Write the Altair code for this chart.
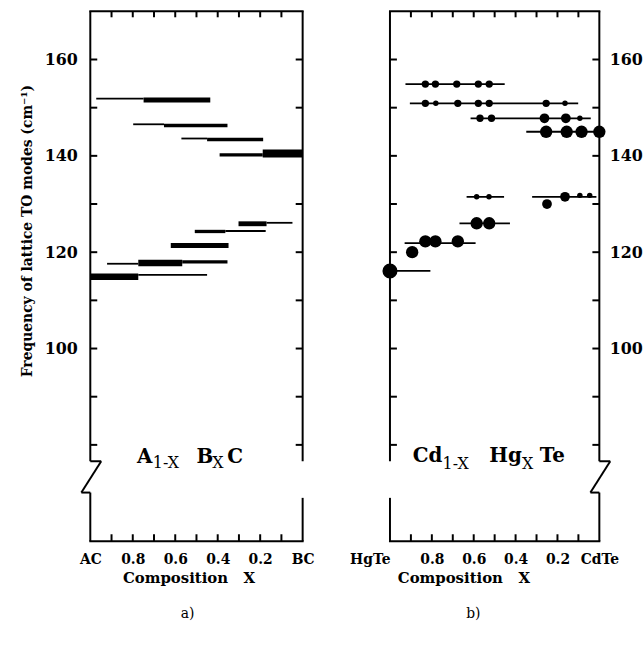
import altair as alt
import pandas as pd

FONT = "DejaVu Serif"
FORMULA_FONT = "DejaVu Serif"

# ---------------- axis values / labels ----------------
Y_DOMAIN = [60, 170]
Y_LABEL_VALUES = [100, 120, 140, 160]
Y_TICKS = [80, 90, 100, 110, 120, 130, 140, 150, 160]
X_LABEL_VALUES = [1.0, 0.8, 0.6, 0.4, 0.2, 0.0]
X_TICKS = [0.9, 0.8, 0.7, 0.6, 0.5, 0.4, 0.3, 0.2, 0.1]
A_X_LABELS = ["AC", "0.8", "0.6", "0.4", "0.2", "BC"]
B_X_LABELS = ["HgTe", "0.8", "0.6", "0.4", "0.2", "CdTe"]
Y_TITLE = "Frequency of lattice TO modes (cm\u207b\u00b9)"
X_TITLE = "Composition\u00a0\u00a0\u00a0X"

# ---------------- panel a) A1-x Bx C : horizontal mode segments ----------------
A_X_START = [0.972, 0.749, 0.798, 0.653, 0.571, 0.450, 0.391, 0.188, 0.302, 0.170,
             0.508, 0.364, 0.621, 0.921, 0.774, 0.567, 1.000, 0.774]
A_X_END = [0.749, 0.435, 0.653, 0.354, 0.450, 0.186, 0.188, 0.000, 0.170, 0.048,
           0.364, 0.174, 0.349, 0.774, 0.567, 0.354, 0.774, 0.450]
A_FREQ = [151.9, 151.6, 146.55, 146.3, 143.6, 143.4, 140.2, 140.5, 125.9, 126.1,
          124.3, 124.4, 121.4, 117.6, 117.75, 118.0, 114.9, 115.3]
A_WEIGHT = [1, 3, 1, 2, 1, 2, 2, 5, 3, 1, 2, 1, 3, 1, 4, 2, 4, 1]

# ---------------- panel b) Cd1-x Hgx Te ----------------
B_LINE_X_START = [0.926, 0.905, 0.615, 0.349, 0.634, 0.321, 0.668, 0.930, 1.000]
B_LINE_X_END = [0.452, 0.101, 0.041, 0.000, 0.455, 0.014, 0.427, 0.591, 0.807]
B_LINE_FREQ = [154.9, 150.9, 147.8, 145.0, 131.5, 131.5, 126.0, 121.9, 116.1]

B_DOT_X = [0.831, 0.783, 0.681, 0.578, 0.526,
           0.831, 0.781, 0.676, 0.578, 0.526, 0.254, 0.164,
           0.570, 0.515, 0.262, 0.160, 0.093,
           0.254, 0.156, 0.085, 0.000,
           0.586, 0.527,
           0.164, 0.093, 0.046, 0.250,
           0.586, 0.526,
           0.831, 0.783, 0.676,
           0.894, 1.000]
B_DOT_FREQ = [154.9, 154.9, 154.9, 154.9, 154.9,
              150.9, 150.9, 150.9, 150.9, 150.9, 150.9, 150.9,
              147.8, 147.8, 147.8, 147.8, 147.8,
              145.0, 145.0, 145.0, 145.0,
              131.5, 131.5,
              131.5, 131.8, 131.8, 130.0,
              126.0, 126.0,
              122.25, 122.25, 122.25,
              120.0, 116.1]
B_DOT_LEVEL = [2, 2, 2, 2, 2,
               2, 1, 2, 2, 2, 2, 1,
               2, 2, 3, 3, 1,
               4, 4, 4, 4,
               1, 1,
               3, 1, 1, 3,
               4, 4,
               4, 4, 4,
               4, 5]

# ---------------- layout constants ----------------
W_A, W_B, H = 214, 211, 534
BREAK_TOP, BREAK_ZIG_BOTTOM, BREAK_GAP_BOTTOM = 76.6, 70.1, 69.0
LW = 2


def label_expr(values, labels):
    expr = "''"
    for v, l in reversed(list(zip(values, labels))):
        expr = f"datum.value == {v} ? '{l}' : ({expr})"
    return expr


YS = alt.Scale(domain=Y_DOMAIN, nice=False, zero=False)
XS = alt.Scale(domain=[0, 1], reverse=True, nice=False, zero=False)
WIDTH_SCALE = alt.Scale(type="linear", domain=[1, 5], range=[1.8, 8])
SIZE_SCALE = alt.Scale(type="pow", exponent=2, domain=[1, 5], range=[30, 230])


def x_axis(labels, title_x, align=None):
    kw = dict(values=X_LABEL_VALUES, labelExpr=label_expr(X_LABEL_VALUES, labels),
              ticks=False, domain=False, grid=False, labelFlush=False,
              labelOverlap=False, labelBound=False, labelPadding=11,
              labelFont=FONT, labelFontSize=14, labelFontWeight="bold",
              labelColor="black", title=X_TITLE, titleFont=FONT, titleFontSize=15,
              titleFontWeight="bold", titleColor="black", titleX=title_x,
              titleY=30, titleAlign="center", titleBaseline="top")
    if align is not None:
        kw["labelAlign"] = align
    return alt.Axis(**kw)


Y_AXIS_A = alt.Axis(orient="left", values=Y_LABEL_VALUES, ticks=False, domain=False,
                    grid=False, labelPadding=13, labelFont=FONT, labelFontSize=16,
                    labelFontWeight="bold", labelColor="black", title=Y_TITLE,
                    titleFont=FONT, titleFontSize=14, titleFontWeight="bold",
                    titleColor="black", titleX=-56, titleY=221, titleAlign="center",
                    titleBaseline="bottom", titleAngle=270)
Y_AXIS_B = alt.Axis(orient="right", values=Y_LABEL_VALUES, ticks=False, domain=False,
                    grid=False, labelPadding=10, labelFont=FONT, labelFontSize=16,
                    labelFontWeight="bold", labelColor="black", title=None)

ONE = pd.DataFrame({"k": [0]})


def frame_layers(W, XENC, YENC, zig_left):
    layers = []
    for yy in (0, H):
        layers.append(alt.Chart(ONE).mark_rule(color="black", strokeWidth=LW).encode(
            x=alt.value(-1), x2=alt.value(W + 1), y=alt.value(yy)))
    zig_x = 0 if zig_left else W
    gap_x = W if zig_left else 0
    zig_seg = pd.DataFrame({"y": [Y_DOMAIN[1], BREAK_ZIG_BOTTOM], "y2": [BREAK_TOP, Y_DOMAIN[0]]})
    gap_seg = pd.DataFrame({"y": [Y_DOMAIN[1], BREAK_GAP_BOTTOM], "y2": [BREAK_TOP, Y_DOMAIN[0]]})
    layers.append(alt.Chart(zig_seg).mark_rule(color="black", strokeWidth=LW).encode(
        x=alt.value(zig_x), y=YENC, y2="y2:Q"))
    layers.append(alt.Chart(gap_seg).mark_rule(color="black", strokeWidth=LW).encode(
        x=alt.value(gap_x), y=YENC, y2="y2:Q"))
    top_pt = pd.DataFrame({"y": [BREAK_TOP], "y2": [BREAK_ZIG_BOTTOM]})
    bot_pt = pd.DataFrame({"y": [BREAK_ZIG_BOTTOM]})
    layers.append(alt.Chart(top_pt).mark_rule(color="black", strokeWidth=LW).encode(
        x=alt.value(zig_x), x2=alt.value(zig_x + 11), y=YENC))
    layers.append(alt.Chart(top_pt).mark_rule(color="black", strokeWidth=LW).encode(
        x=alt.value(zig_x + 11), x2=alt.value(zig_x - 9), y=YENC, y2="y2:Q"))
    layers.append(alt.Chart(bot_pt).mark_rule(color="black", strokeWidth=LW).encode(
        x=alt.value(zig_x - 9), x2=alt.value(zig_x), y=YENC))
    yt = pd.DataFrame({"y": Y_TICKS})
    layers.append(alt.Chart(yt).mark_rule(color="black", strokeWidth=LW).encode(
        x=alt.value(0), x2=alt.value(7), y=YENC))
    layers.append(alt.Chart(yt).mark_rule(color="black", strokeWidth=LW).encode(
        x=alt.value(W - 7), x2=alt.value(W), y=YENC))
    xt = pd.DataFrame({"x": X_TICKS})
    layers.append(alt.Chart(xt).mark_rule(color="black", strokeWidth=LW).encode(
        x=XENC, y=alt.value(0), y2=alt.value(6)))
    layers.append(alt.Chart(xt).mark_rule(color="black", strokeWidth=LW).encode(
        x=XENC, y=alt.value(H - 7), y2=alt.value(H)))
    return layers


def text_part(txt, px, py, size, bold, font=FORMULA_FONT, align="left"):
    return alt.Chart(ONE).mark_text(
        text=txt, align=align, baseline="alphabetic", font=font, fontSize=size,
        fontWeight="bold" if bold else "normal", color="black").encode(
        x=alt.value(px), y=alt.value(py))


# ---------------- panel a ----------------
XENC_A = alt.X("x:Q", scale=XS, axis=x_axis(A_X_LABELS, 99))
YENC_A = alt.Y("y:Q", scale=YS, axis=Y_AXIS_A)
df_a = pd.DataFrame({"x": A_X_START, "x2": A_X_END, "y": A_FREQ, "w": A_WEIGHT})
seg_a = alt.Chart(df_a).mark_rule(color="black").encode(
    x=XENC_A, x2="x2:Q", y=YENC_A,
    strokeWidth=alt.StrokeWidth("w:Q", scale=WIDTH_SCALE, legend=None))
texts_a = [
    text_part("A", 47, 455, 20, True),
    text_part("1-X", 63, 460, 16, False),
    text_part("B", 107, 455, 20, True),
    text_part("X", 123, 460, 16, False),
    text_part("C", 138, 455, 20, True),
    text_part("a)", 98, 611, 14, False, font=FONT, align="center"),
]
panel_a = alt.layer(*frame_layers(W_A, XENC_A, YENC_A, True), seg_a, *texts_a).properties(
    width=W_A, height=H)

# ---------------- panel b ----------------
XENC_B = alt.X("x:Q", scale=XS, axis=x_axis(
    B_X_LABELS, 74,
    align={"condition": {"test": "datum.value == 1", "value": "right"}, "value": "center"}))
YENC_B = alt.Y("y:Q", scale=YS, axis=Y_AXIS_B)
df_bl = pd.DataFrame({"x": B_LINE_X_START, "x2": B_LINE_X_END, "y": B_LINE_FREQ})
df_bd = pd.DataFrame({"x": B_DOT_X, "y": B_DOT_FREQ, "s": B_DOT_LEVEL})
lines_b = alt.Chart(df_bl).mark_rule(color="black", strokeWidth=1.8).encode(
    x=XENC_B, x2="x2:Q", y=YENC_B)
dots_b = alt.Chart(df_bd).mark_circle(color="black", opacity=1).encode(
    x=XENC_B, y=YENC_B,
    size=alt.Size("s:Q", scale=SIZE_SCALE, legend=None))
texts_b = [
    text_part("Cd", 23, 454, 20, True),
    text_part("1-X", 53, 461, 16, False),
    text_part("Hg", 100, 454, 20, True),
    text_part("X", 133, 461, 16, False),
    text_part("Te", 151, 454, 20, True),
    text_part("b)", 84, 611, 14, False, font=FONT, align="center"),
]
panel_b = alt.layer(*frame_layers(W_B, XENC_B, YENC_B, False), lines_b, dots_b, *texts_b).properties(
    width=W_B, height=H)

chart = alt.hconcat(panel_a, panel_b, spacing=88, bounds="flush").configure_view(
    stroke=None).properties(padding={"left": 20, "top": 8, "right": 0, "bottom": 0})

chart.save("out.html", embed_options={"renderer": "svg", "actions": False})
